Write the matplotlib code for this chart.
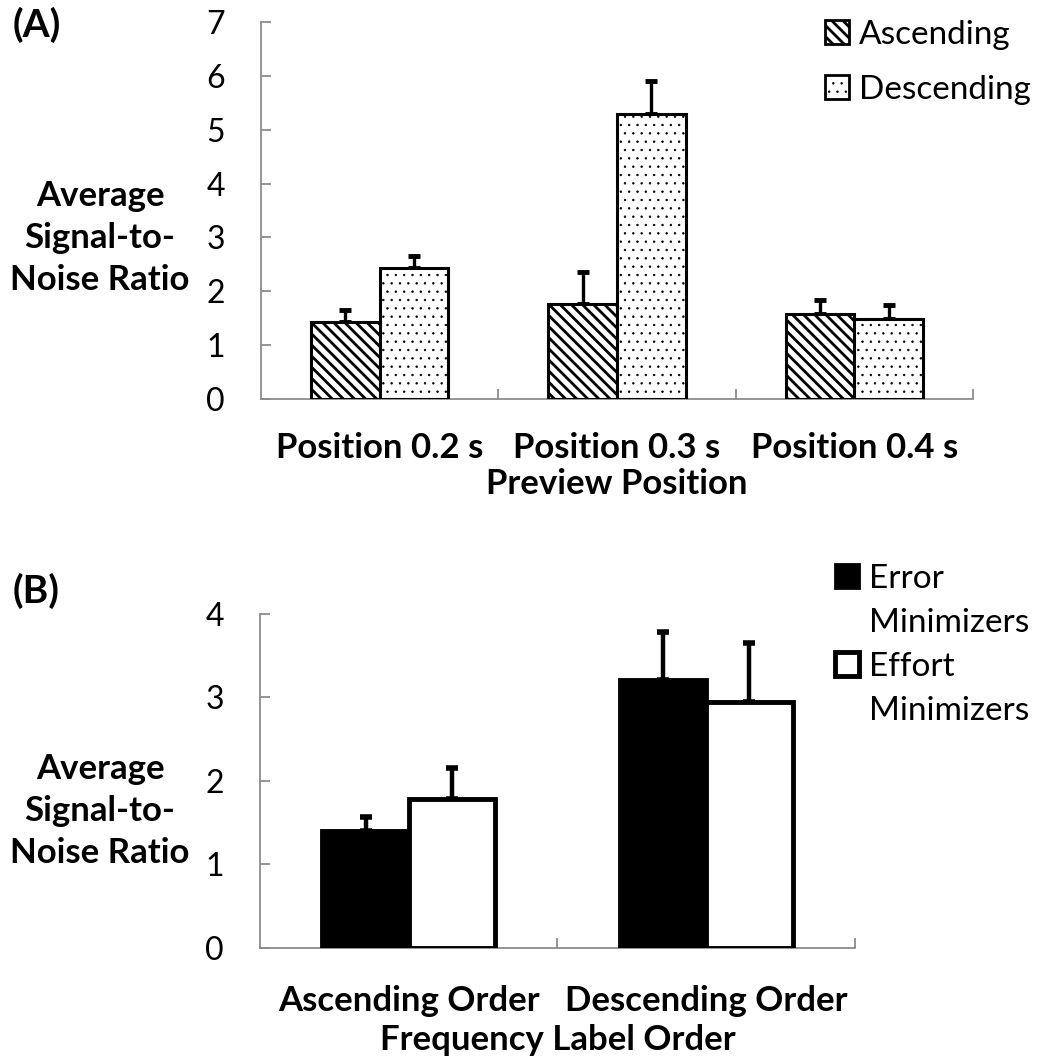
import matplotlib
matplotlib.use('Agg')
import matplotlib.pyplot as plt
from matplotlib.patches import Patch
import numpy as np

plt.rcParams['font.family'] = ['Lato', 'DejaVu Sans']
plt.rcParams['hatch.linewidth'] = 2.0

# (A) SNR by preview position
positions = ['Position 0.2 s', 'Position 0.3 s', 'Position 0.4 s']
asc_snr = [1.43, 1.77, 1.57]
asc_err = [0.22, 0.59, 0.27]
desc_snr = [2.43, 5.30, 1.48]
desc_err = [0.22, 0.60, 0.27]

# (B) SNR by frequency label order
orders = ['Ascending Order', 'Descending Order']
error_min = [1.40, 3.21]
error_min_err = [0.17, 0.57]
effort_min = [1.79, 2.94]
effort_min_err = [0.37, 0.71]

axis_grey = '#8c8c8c'
w = 0.29
bold_size = 25


def thin_dots(patches):
    # dotted fill reads better with small dots than with the stripe line width
    for p in patches:
        if hasattr(p, 'set_hatch_linewidth'):
            p.set_hatch_linewidth(0.5)


fig = plt.figure(figsize=(10.39, 10.63), dpi=100)
ax1 = fig.add_axes([0.2512, 0.6247, 0.6853, 0.3546])
ax2 = fig.add_axes([0.2502, 0.1082, 0.5727, 0.3142])

x1 = np.arange(len(positions))
ax1.bar(x1 - w/2, asc_snr, w, facecolor='white', edgecolor='black', hatch='\\\\\\',
        linewidth=2.2, zorder=3)
dots = ax1.bar(x1 + w/2, desc_snr, w, facecolor='white', edgecolor='black', hatch='..',
               linewidth=2.2, zorder=3)
thin_dots(dots)
ax1.errorbar(x1 - w/2, asc_snr, yerr=[np.zeros(3), asc_err], fmt='none', ecolor='black',
             elinewidth=2.4, capsize=4.5, capthick=3.5, zorder=2)
ax1.errorbar(x1 + w/2, desc_snr, yerr=[np.zeros(3), desc_err], fmt='none', ecolor='black',
             elinewidth=2.4, capsize=4.5, capthick=3.5, zorder=2)
ax1.set_xlim(-0.5, 2.5)
ax1.set_ylim(0, 7)
ax1.set_yticks(range(0, 8))
ax1.set_xticks(x1)
ax1.set_xticklabels(positions, fontweight='bold', fontsize=bold_size)
ax1.set_xticks([0.5, 1.5, 2.5], minor=True)
ax1.set_xlabel('Preview Position', fontweight='bold', fontsize=bold_size, labelpad=3)

x2 = np.arange(len(orders))
ax2.bar(x2 - w/2, error_min, w, color='black', edgecolor='black', linewidth=3.5, zorder=3)
ax2.bar(x2 + w/2, effort_min, w, facecolor='white', edgecolor='black', linewidth=3.5, zorder=3)
ax2.errorbar(x2 - w/2, error_min, yerr=[np.zeros(2), error_min_err], fmt='none', ecolor='black',
             elinewidth=3.2, capsize=4.5, capthick=4, zorder=2)
ax2.errorbar(x2 + w/2, effort_min, yerr=[np.zeros(2), effort_min_err], fmt='none', ecolor='black',
             elinewidth=3.2, capsize=4.5, capthick=4, zorder=2)
ax2.set_xlim(-0.5, 1.5)
ax2.set_ylim(0, 4)
ax2.set_yticks(range(0, 5))
ax2.set_xticks(x2)
ax2.set_xticklabels(orders, fontweight='bold', fontsize=bold_size)
ax2.set_xticks([0.5, 1.5], minor=True)
ax2.set_xlabel('Frequency Label Order', fontweight='bold', fontsize=bold_size, labelpad=5)

for ax, xpad in ((ax1, 24), (ax2, 26.5)):
    ax.spines[['top', 'right']].set_visible(False)
    for s in ('left', 'bottom'):
        ax.spines[s].set_color(axis_grey)
        ax.spines[s].set_linewidth(1.3)
    ax.tick_params(axis='y', direction='in', length=7.5, width=1.3, color=axis_grey,
                   labelsize=23, pad=26)
    ax.tick_params(axis='x', which='major', length=0, pad=xpad)
    ax.tick_params(axis='x', which='minor', direction='in', length=7.5, width=1.3,
                   color=axis_grey)

# y-axis titles and panel letters
ylab = 'Average\nSignal-to-\nNoise Ratio'
fig.text(100/1039, 1 - 238/1063, ylab, ha='center', va='center', fontweight='bold',
         fontsize=bold_size, linespacing=1.4)
fig.text(100/1039, 1 - 811/1063, ylab, ha='center', va='center', fontweight='bold',
         fontsize=bold_size, linespacing=1.4)
fig.text(13/1039, 1 - 25/1063, '(A)', ha='left', va='center', fontweight='bold', fontsize=28)
fig.text(13/1039, 1 - 591/1063, '(B)', ha='left', va='center', fontweight='bold', fontsize=28)

# legends
h_top = [Patch(facecolor='white', edgecolor='black', hatch='\\\\\\', linewidth=2),
         Patch(facecolor='white', edgecolor='black', hatch='..', linewidth=2)]
leg1 = fig.legend(h_top, ['Ascending', 'Descending'], loc='upper left',
                  bbox_to_anchor=(825/1039, 1 - 20/1063), frameon=False, fontsize=24,
                  handlelength=0.72, handleheight=0.72, handletextpad=0.3, labelspacing=0.75,
                  borderpad=0, borderaxespad=0)
thin_dots(leg1.legend_handles[1:])

blank = Patch(facecolor='none', edgecolor='none')
h_bot = [Patch(facecolor='black', edgecolor='black', linewidth=2), blank,
         Patch(facecolor='white', edgecolor='black', linewidth=3.5), blank]
fig.legend(h_bot, ['Error', 'Minimizers', 'Effort', 'Minimizers'], loc='upper left',
           bbox_to_anchor=(835/1039, 1 - 564/1063), frameon=False, fontsize=24,
           handlelength=0.72, handleheight=0.72, handletextpad=0.3, labelspacing=0.42,
           borderpad=0, borderaxespad=0)

fig.savefig('out.png', dpi=100)
